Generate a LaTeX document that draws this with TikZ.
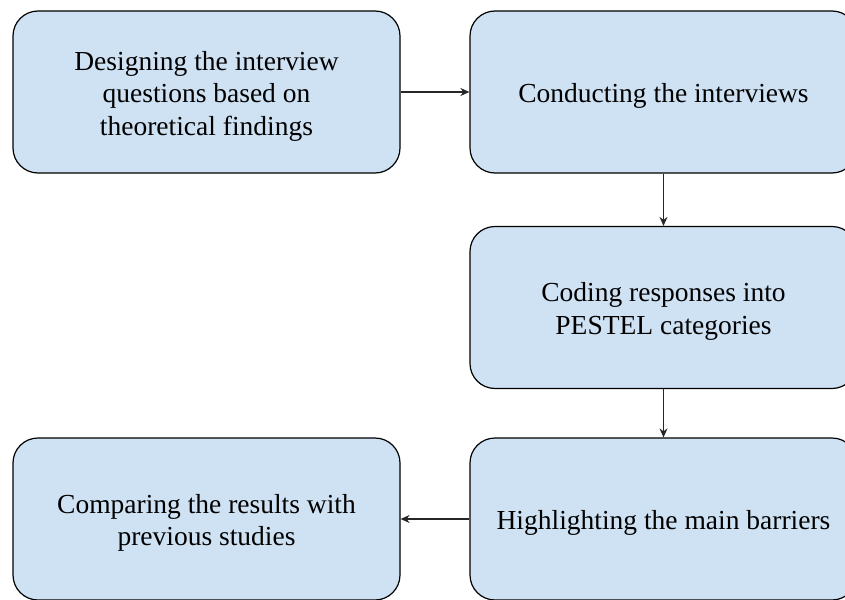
\documentclass[tikz,border=0pt]{standalone}
\usepackage{fontspec}
\setmainfont{Liberation Serif}
\usetikzlibrary{arrows.meta}
\definecolor{boxfill}{HTML}{CFE2F3}
\tikzset{
  stepbox/.style={draw=black, fill=boxfill, line width=1.2pt, rounded corners=25pt,
    minimum width=387pt, minimum height=162pt, inner sep=0pt},
  steptext/.style={align=center, font=\fontsize{27.5}{32.5}\selectfont, yshift=-4pt},
  flow/.style={draw=black!85, line width=1.2pt, -{Stealth[length=9pt,width=8pt]}}
}
\begin{document}
\begin{tikzpicture}[x=1pt,y=-1pt]
\useasboundingbox (0,0) rectangle (845,599);
\clip (0,0) rectangle (845,599);
\node[stepbox, label={[steptext]center:{Designing the interview\\questions based on\\theoretical findings}}] (a) at (206.5,92) {};
\node[stepbox, label={[steptext]center:{Conducting the interviews}}] (b) at (663.5,92) {};
\node[stepbox, label={[steptext]center:{Coding responses into\\PESTEL categories}}] (c) at (663.5,307.5) {};
\node[stepbox, label={[steptext]center:{Highlighting the main barriers}}] (d) at (663.5,519) {};
\node[stepbox, label={[steptext]center:{Comparing the results with\\previous studies}}] (e) at (206.5,519) {};
\draw[flow] (a) -- (b);
\draw[flow] (b) -- (c);
\draw[flow] (c) -- (d);
\draw[flow] (d) -- (e);
\end{tikzpicture}
\end{document}
